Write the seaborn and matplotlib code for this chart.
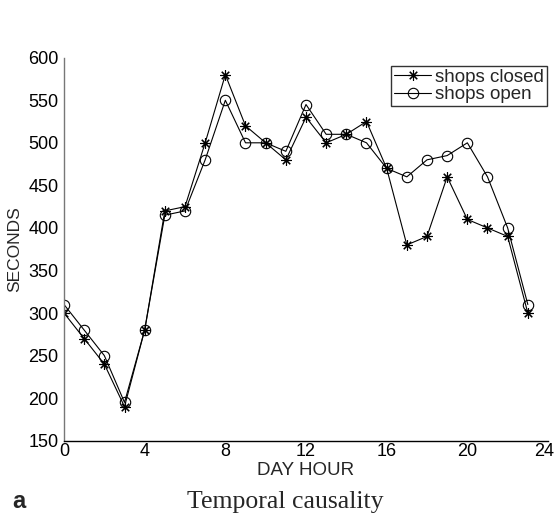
import numpy as np
import pandas as pd
import matplotlib
matplotlib.use('Agg')
import matplotlib.pyplot as plt
import matplotlib.transforms as mtransforms
import seaborn as sns

hours = list(range(24))
shops_closed = [300, 270, 240, 190, 280, 420, 425, 500, 580, 520, 500, 480,
                530, 500, 510, 525, 470, 380, 390, 460, 410, 400, 390, 300]
shops_open = [310, 280, 250, 195, 280, 415, 420, 480, 550, 500, 500, 490,
              545, 510, 510, 500, 470, 460, 480, 485, 500, 460, 400, 310]

df_closed = pd.DataFrame({'hour': hours, 'seconds': shops_closed})
df_open = pd.DataFrame({'hour': hours, 'seconds': shops_open})

sns.set_style('white')
plt.rcParams['font.family'] = ['Liberation Sans', 'DejaVu Sans']
plt.rcParams['xtick.direction'] = 'in'
plt.rcParams['ytick.direction'] = 'in'

W, H = 556, 515
fig = plt.figure(figsize=(W / 100, H / 100), dpi=100)
ax = fig.add_axes([64 / W, 1 - 440.7 / H, (548 - 64) / W, (440.7 - 57.7) / H])

# shops closed: asterisk markers
sns.lineplot(data=df_closed, x='hour', y='seconds', ax=ax, color='black',
             linewidth=0.8, marker=(8, 2, 0), markersize=7.5,
             markeredgecolor='black', markeredgewidth=0.8,
             label='shops closed')
# shops open: hollow circles
sns.lineplot(data=df_open, x='hour', y='seconds', ax=ax, color='black',
             linewidth=0.8, marker='o', markersize=7.5, markerfacecolor='none',
             markeredgecolor='black', markeredgewidth=0.8,
             label='shops open')

ax.set_xlim(0, 24)
ax.set_ylim(150, 600)
ax.set_xticks(range(0, 25, 4))
ax.set_yticks(range(150, 601, 50))
ax.tick_params(labelsize=13, length=4, width=0.8, labelcolor='black')
ax.tick_params(axis='x', colors='black', pad=2)
ax.tick_params(axis='y', colors='#777777', labelcolor='black', pad=4)
for s in ['top', 'right']:
    ax.spines[s].set_visible(False)
ax.spines['bottom'].set_color('black')
ax.spines['left'].set_color('#777777')
for s in ['left', 'bottom']:
    ax.spines[s].set_linewidth(1.0)
ax.set_xlabel('DAY HOUR', fontsize=13.5, labelpad=1)
ax.set_ylabel('SECONDS', fontsize=12.5, labelpad=4)

# keep the last x tick label inside the figure
last = ax.get_xticklabels()[-1]
last.set_transform(last.get_transform() +
                   mtransforms.ScaledTranslation(-4 / 100, 0, fig.dpi_scale_trans))

leg = ax.legend(loc='upper right', bbox_to_anchor=(546.7 / W, 1 - 66 / H),
                bbox_transform=fig.transFigure, borderaxespad=0,
                fontsize=13.5, frameon=True, fancybox=False,
                handlelength=2.0, handletextpad=0.2, borderpad=0.15,
                labelspacing=0.0)
leg.get_frame().set_edgecolor('black')
leg.get_frame().set_linewidth(1.0)

fig.text(12 / W, 1 - 508 / H, 'a', fontsize=17, fontweight='bold',
         va='baseline')
fig.text(285 / W, 1 - 508 / H, 'Temporal causality', fontsize=18.5,
         family='Liberation Serif', ha='center', va='baseline')

fig.savefig('out.png', dpi=100)
